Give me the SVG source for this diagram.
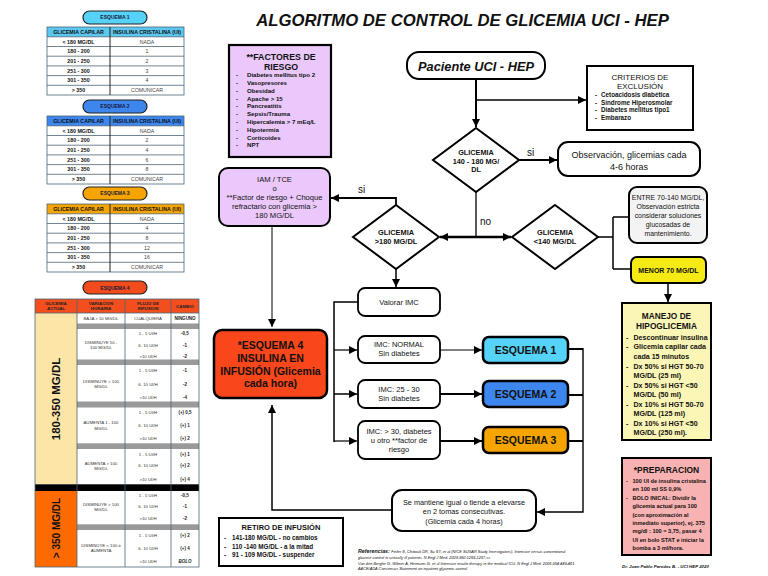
<svg xmlns="http://www.w3.org/2000/svg" width="768" height="576" viewBox="0 0 768 576">
<defs>
<marker id="ah" viewBox="0 0 10 10" refX="10" refY="5" markerWidth="8" markerHeight="8" markerUnits="userSpaceOnUse" orient="auto"><path d="M0,0 L10,5 L0,10 z" fill="#000"/></marker>
<style>
text{font-family:"Liberation Sans",Arial,Helvetica,sans-serif;fill:#111}
.c{text-anchor:middle}
.b{font-weight:bold}
.bi{font-weight:bold;font-style:italic}
.it{font-style:italic}
.ln{stroke:#000;fill:none}
.tb{stroke:#4d6577;stroke-width:0.8;fill:none}
.dv{stroke:#222;stroke-width:1}
.th{font-size:5.3px;font-weight:bold}
.tl{font-size:5.3px;font-weight:bold}
.tr{font-size:5.2px;fill:#444}
.pill{stroke:#222;stroke-width:1.2}
.pt{font-size:5px;font-weight:bold;fill:#1a1a40}
.s4{font-size:4.3px;fill:#333}
.s4b{font-size:4.5px;font-weight:bold;fill:#222}
.s4h{font-size:4.4px;font-weight:bold;fill:#222}
.gray{fill:#9a9a9a}
.box{stroke:#000;stroke-width:2}
.li{font-weight:bold}
</style>
</defs>
<rect width="768" height="576" fill="#fff"/>

<text x="462.5" y="26" class="c bi" font-size="16.7">ALGORITMO DE CONTROL DE GLICEMIA UCI - HEP</text>

<!-- ESQUEMA 1 table -->
<g id="tabla1" transform="translate(0,27)">
<rect x="83" y="-16" width="64" height="13" rx="6.5" fill="#56d1f7" class="pill"/>
<text x="115" y="-7.7" class="c pt">ESQUEMA 1</text>
<rect x="47" y="0" width="137" height="9.8" fill="#5cc8f0"/>
<rect x="47" y="0" width="137" height="68" class="tb"/>
<path d="M47,9.8H184M47,19.5H184M47,29.2H184M47,38.9H184M47,48.6H184M47,58.3H184" class="tb"/>
<path d="M110,0V68" class="dv"/>
<text x="78.5" y="6.7" class="c th">GLICEMIA CAPILAR</text>
<text x="147" y="6.7" class="c th">INSULINA CRISTALINA (UI)</text>
<text x="78.5" y="16.5" class="c tl">&lt; 180 MG/DL</text><text x="147" y="16.5" class="c tr">NADA</text>
<text x="78.5" y="26.2" class="c tl">180 - 200</text><text x="147" y="26.2" class="c tr">1</text>
<text x="78.5" y="35.9" class="c tl">201 - 250</text><text x="147" y="35.9" class="c tr">2</text>
<text x="78.5" y="45.6" class="c tl">251 - 300</text><text x="147" y="45.6" class="c tr">3</text>
<text x="78.5" y="55.3" class="c tl">301 - 350</text><text x="147" y="55.3" class="c tr">4</text>
<text x="78.5" y="65" class="c tl">&gt; 350</text><text x="147" y="65" class="c tr">COMUNICAR</text>
</g>

<!-- ESQUEMA 2 table -->
<g id="tabla2" transform="translate(0,116)">
<rect x="83" y="-16" width="64" height="13" rx="6.5" fill="#3c86ee" class="pill"/>
<text x="115" y="-7.7" class="c pt">ESQUEMA 2</text>
<rect x="47" y="0" width="137" height="9.8" fill="#3c86ee"/>
<rect x="47" y="0" width="137" height="68" class="tb"/>
<path d="M47,9.8H184M47,19.5H184M47,29.2H184M47,38.9H184M47,48.6H184M47,58.3H184" class="tb"/>
<path d="M110,0V68" class="dv"/>
<text x="78.5" y="6.7" class="c th">GLICEMIA CAPILAR</text>
<text x="147" y="6.7" class="c th">INSULINA CRISTALINA (UI)</text>
<text x="78.5" y="16.5" class="c tl">&lt; 180 MG/DL</text><text x="147" y="16.5" class="c tr">NADA</text>
<text x="78.5" y="26.2" class="c tl">180 - 200</text><text x="147" y="26.2" class="c tr">2</text>
<text x="78.5" y="35.9" class="c tl">201 - 250</text><text x="147" y="35.9" class="c tr">4</text>
<text x="78.5" y="45.6" class="c tl">251 - 300</text><text x="147" y="45.6" class="c tr">6</text>
<text x="78.5" y="55.3" class="c tl">301 - 350</text><text x="147" y="55.3" class="c tr">8</text>
<text x="78.5" y="65" class="c tl">&gt; 350</text><text x="147" y="65" class="c tr">COMUNICAR</text>
</g>

<!-- ESQUEMA 3 table -->
<g id="tabla3" transform="translate(0,204)">
<rect x="83" y="-17" width="64" height="13" rx="6.5" fill="#f6a500" class="pill"/>
<text x="115" y="-8.7" class="c pt">ESQUEMA 3</text>
<rect x="47" y="0" width="137" height="9.8" fill="#f6a500"/>
<rect x="47" y="0" width="137" height="68" class="tb"/>
<path d="M47,9.8H184M47,19.5H184M47,29.2H184M47,38.9H184M47,48.6H184M47,58.3H184" class="tb"/>
<path d="M110,0V68" class="dv"/>
<text x="78.5" y="6.7" class="c th">GLICEMIA CAPILAR</text>
<text x="147" y="6.7" class="c th">INSULINA CRISTALINA (UI)</text>
<text x="78.5" y="16.5" class="c tl">&lt; 180 MG/DL</text><text x="147" y="16.5" class="c tr">NADA</text>
<text x="78.5" y="26.2" class="c tl">180 - 200</text><text x="147" y="26.2" class="c tr">4</text>
<text x="78.5" y="35.9" class="c tl">201 - 250</text><text x="147" y="35.9" class="c tr">8</text>
<text x="78.5" y="45.6" class="c tl">251 - 300</text><text x="147" y="45.6" class="c tr">12</text>
<text x="78.5" y="55.3" class="c tl">301 - 350</text><text x="147" y="55.3" class="c tr">16</text>
<text x="78.5" y="65" class="c tl">&gt; 350</text><text x="147" y="65" class="c tr">COMUNICAR</text>
</g>

<!-- ESQUEMA 4 table -->
<g id="tabla4">
<rect x="83" y="281" width="64" height="13" rx="6.5" fill="#f24c1c" class="pill"/>
<text x="115" y="289.5" class="c pt">ESQUEMA 4</text>
<rect x="35" y="299" width="164" height="14" fill="#f24e1e"/>
<rect x="35" y="313" width="42" height="171.3" fill="#fde5a8"/>
<rect x="35" y="491" width="42" height="76" fill="#ff6a00"/>
<rect x="77" y="323.5" width="122" height="5.5" class="gray"/>
<rect x="77" y="359.5" width="122" height="5.5" class="gray"/>
<rect x="77" y="401.5" width="122" height="6" class="gray"/>
<rect x="77" y="443.3" width="122" height="5.7" class="gray"/>
<rect x="77" y="524.3" width="122" height="5.7" class="gray"/>
<rect x="35" y="484.3" width="164" height="6.7" fill="#000"/>
<rect x="35" y="299" width="164" height="268" class="tb" stroke-width="1"/>
<path d="M77,299V567M125,299V567M171,299V567M35,313H199" class="tb"/>
<text x="56" y="305" class="c s4h">GLICEMIA</text><text x="56" y="310" class="c s4h">ACTUAL</text>
<text x="101" y="305" class="c s4h">VARIACION</text><text x="101" y="310" class="c s4h">HORARIA</text>
<text x="148" y="305" class="c s4h">FLUJO DE</text><text x="148" y="310" class="c s4h">INFUSION</text>
<text x="185" y="307.5" class="c s4h">CAMBIO</text>
<text x="101" y="319.8" class="c s4">BAJA &gt; 50 MG/DL</text>
<text x="148" y="319.8" class="c s4">CUALQUIERA</text>
<text x="185" y="319.8" class="c s4b">NINGUNO</text>
<text transform="translate(60,399) rotate(-90)" class="c b" font-size="11.5">180-350 MG/DL</text>
<text transform="translate(59.5,528) rotate(-90)" class="c b" font-size="10">&gt; 350 MG/DL</text>
<!-- block A -->
<text x="101" y="343.5" class="c s4">DISMINUYE 50 -</text><text x="101" y="349" class="c s4">100 MG/DL</text>
<text x="148" y="335" class="c s4">1 - 5 UI/H</text><text x="148" y="346.5" class="c s4">6- 10 UI/H</text><text x="148" y="357.6" class="c s4">&gt;10 UI/H</text>
<text x="185" y="335" class="c s4b">-0,5</text><text x="185" y="346.5" class="c s4b">-1</text><text x="185" y="357.6" class="c s4b">-2</text>
<!-- block B -->
<text x="101" y="382.5" class="c s4">DISMINUYE &gt; 100</text><text x="101" y="388" class="c s4">MG/DL</text>
<text x="148" y="372.2" class="c s4">1 - 5 UI/H</text><text x="148" y="385.5" class="c s4">6- 10 UI/H</text><text x="148" y="398.8" class="c s4">&gt;10 UI/H</text>
<text x="185" y="372.2" class="c s4b">-1</text><text x="185" y="385.5" class="c s4b">-2</text><text x="185" y="398.8" class="c s4b">-4</text>
<!-- block C -->
<text x="101" y="424" class="c s4">AUMENTA 1 - 100</text><text x="101" y="429.5" class="c s4">MG/DL</text>
<text x="148" y="413.8" class="c s4">1 - 5 UI/H</text><text x="148" y="426.5" class="c s4">6- 10 UI/H</text><text x="148" y="439.8" class="c s4">&gt;10 UI/H</text>
<text x="185" y="413.8" class="c s4b">(+) 0,5</text><text x="185" y="426.5" class="c s4b">(+) 1</text><text x="185" y="439.8" class="c s4b">(+) 2</text>
<!-- block D -->
<text x="101" y="464.5" class="c s4">AUMENTA &gt; 100</text><text x="101" y="470" class="c s4">MG/DL</text>
<text x="148" y="455.8" class="c s4">1 - 5 UI/H</text><text x="148" y="467.2" class="c s4">6- 10 UI/H</text><text x="148" y="481.3" class="c s4">&gt;10 UI/H</text>
<text x="185" y="455.8" class="c s4b">(+) 1</text><text x="185" y="467.2" class="c s4b">(+) 2</text><text x="185" y="481.3" class="c s4b">(+) 4</text>
<!-- block E -->
<text x="101" y="505.5" class="c s4">DISMINUYE &gt; 100</text><text x="101" y="511" class="c s4">MG/DL</text>
<text x="148" y="496.5" class="c s4">1 - 5 UI/H</text><text x="148" y="508.2" class="c s4">6- 10 UI/H</text><text x="148" y="519.8" class="c s4">&gt;10 UI/H</text>
<text x="185" y="496.5" class="c s4b">-0,5</text><text x="185" y="508.2" class="c s4b">-1</text><text x="185" y="519.8" class="c s4b">-2</text>
<!-- block F -->
<text x="101" y="546.5" class="c s4">DISMINUYE &lt; 100 ó</text><text x="101" y="552" class="c s4">AUMENTA</text>
<text x="148" y="536.5" class="c s4">1 - 5 UI/H</text><text x="148" y="549.8" class="c s4">6- 10 UI/H</text><text x="148" y="562.5" class="c s4">&gt;10 UI/H</text>
<text x="185" y="536.5" class="c s4b">(+) 2</text><text x="185" y="549.8" class="c s4b">(+) 4</text><text x="185" y="562.5" class="c s4b" font-style="italic">BOLO</text>
</g>

<!-- connectors -->
<g id="connectors">
<path d="M476,79V127" class="ln" stroke-width="2" marker-end="url(#ah)"/>
<path d="M476,100H586" class="ln" stroke-width="1.3" marker-end="url(#ah)"/>
<path d="M519,160H557" class="ln" stroke-width="2" marker-end="url(#ah)"/>
<path d="M476,192V237" class="ln" stroke-width="1.3"/>
<path d="M476,237H440" class="ln" stroke-width="2.5" marker-end="url(#ah)"/>
<path d="M476,237H511" class="ln" stroke-width="2.5" marker-end="url(#ah)"/>
<path d="M396,205V198H331" class="ln" stroke-width="1.8" marker-end="url(#ah)"/>
<path d="M396,269V287" class="ln" stroke-width="1.5" marker-end="url(#ah)"/>
<path d="M272,226V327" class="ln" stroke-width="1" marker-end="url(#ah)"/>
<path d="M358,302H334V442" class="ln" stroke-width="1.5"/>
<path d="M334,350H357" class="ln" stroke-width="1.2" marker-end="url(#ah)"/>
<path d="M334,394H357" class="ln" stroke-width="1.5" marker-end="url(#ah)"/>
<path d="M334,441H357" class="ln" stroke-width="1.2" marker-end="url(#ah)"/>
<path d="M440,350H482" class="ln" stroke-width="1" marker-end="url(#ah)"/>
<path d="M440,394H482" class="ln" stroke-width="2" marker-end="url(#ah)"/>
<path d="M440,441H482" class="ln" stroke-width="2" marker-end="url(#ah)"/>
<path d="M568,349H583M568,395H583M568,441H583" class="ln" stroke-width="1.8"/>
<path d="M583,348V512H537" class="ln" stroke-width="1.4" marker-end="url(#ah)"/>
<path d="M392,510H272V405" class="ln" stroke-width="1.5" marker-end="url(#ah)"/>
<path d="M598,237H613M613,217V269M613,217H629M613,269H631" class="ln" stroke-width="1.5"/>
<path d="M668,283V302" class="ln" stroke-width="1.5" marker-end="url(#ah)"/>
<text x="527" y="156" font-size="10">si</text>
<text x="480" y="225" font-size="10">no</text>
<text x="358" y="193" font-size="10">si</text>
</g>

<!-- nodes -->
<g id="paciente">
<rect x="407" y="52" width="138" height="27" rx="12" fill="#fff" class="box"/>
<text x="476" y="70.5" class="c bi" font-size="12.8">Paciente UCI - HEP</text>
</g>

<g id="criterios">
<rect x="587" y="66" width="106" height="64" fill="#fff" class="box"/>
<text x="640" y="80" class="c" font-size="8">CRITERIOS DE</text>
<text x="640" y="89" class="c" font-size="8">EXCLUSIÓN</text>
<g font-size="6.3" class="li">
<text x="595" y="97">-</text><text x="601" y="97">Cetoacidosis diabética</text>
<text x="595" y="104.6">-</text><text x="601" y="104.6">Síndrome Hiperosmolar</text>
<text x="595" y="112.2">-</text><text x="601" y="112.2">Diabetes mellitus tipo1</text>
<text x="595" y="119.8">-</text><text x="601" y="119.8">Embarazo</text>
</g>
</g>

<g id="factores">
<rect x="229" y="45" width="102" height="112" fill="#ebc8fb" stroke="#000" stroke-width="2.2"/>
<text x="281" y="59.5" class="c b" font-size="8.8">**FACTORES DE</text>
<text x="281" y="69.5" class="c b" font-size="8.8">RIESGO</text>
<g font-size="6.1" class="li">
<text x="236" y="77.2">-</text><text x="247" y="77.2">Diabetes mellitus tipo 2</text>
<text x="236" y="85">-</text><text x="247" y="85">Vasopresores</text>
<text x="236" y="92.8">-</text><text x="247" y="92.8">Obesidad</text>
<text x="236" y="100.6">-</text><text x="247" y="100.6">Apache &gt; 15</text>
<text x="236" y="108.4">-</text><text x="247" y="108.4">Pancreatitis</text>
<text x="236" y="116.2">-</text><text x="247" y="116.2">Sepsis/Trauma</text>
<text x="236" y="124">-</text><text x="247" y="124">Hipercalemia &gt; 7 mEq/L</text>
<text x="236" y="131.8">-</text><text x="247" y="131.8">Hipotermia</text>
<text x="236" y="139.6">-</text><text x="247" y="139.6">Corticoides</text>
<text x="236" y="147.4">-</text><text x="247" y="147.4">NPT</text>
</g>
</g>

<g id="iam">
<rect x="219" y="168" width="111" height="58" rx="9" fill="#ebc8fb" class="box"/>
<g font-size="7.6">
<text x="274.5" y="181.5" class="c">IAM / TCE</text>
<text x="274.5" y="191" class="c">o</text>
<text x="274.5" y="200" class="c">**Factor de riesgo + Choque</text>
<text x="274.5" y="208.8" class="c">refractario con glicemia &gt;</text>
<text x="274.5" y="217.8" class="c">180 MG/DL</text>
</g>
</g>

<g id="dec140180">
<polygon points="476,128 519,160 476,192 433,160" fill="#fff" class="box"/>
<g font-size="7.3" class="b">
<text x="476" y="155" class="c">GLICEMIA</text>
<text x="476" y="163.5" class="c">140 - 180 MG/</text>
<text x="476" y="172" class="c">DL</text>
</g>
</g>

<g id="observacion">
<rect x="558" y="142" width="142" height="34" rx="10" fill="#fff" class="box"/>
<text x="629" y="158" class="c" font-size="9">Observación, glicemias cada</text>
<text x="629" y="170" class="c" font-size="9">4-6 horas</text>
</g>

<g id="dec180">
<polygon points="396,205 439,237 396,269 353,237" fill="#fff" class="box"/>
<text x="396" y="235" class="c b" font-size="7.4">GLICEMIA</text>
<text x="396" y="243.5" class="c b" font-size="7.4">&gt;180 MG/DL</text>
</g>

<g id="dec140">
<polygon points="555,205 598,237 555,269 512,237" fill="#fff" class="box"/>
<text x="555" y="235" class="c b" font-size="7.4">GLICEMIA</text>
<text x="555" y="243.5" class="c b" font-size="7.4">&lt;140 MG/DL</text>
</g>

<g id="entre">
<rect x="629" y="187" width="78" height="56" rx="8" fill="#f3f3f3" class="box"/>
<g font-size="6.9">
<text x="668" y="199.5" class="c">ENTRE 70-140 MG/DL,</text>
<text x="668" y="208.5" class="c">Observación estricta</text>
<text x="668" y="217.5" class="c">considerar soluciones</text>
<text x="668" y="226.5" class="c">glucosadas de</text>
<text x="668" y="235.5" class="c">mantenimiento.</text>
</g>
</g>

<g id="menor">
<rect x="631" y="257" width="75" height="26" rx="6" fill="#f5ea14" class="box"/>
<text x="668.5" y="272.5" class="c b" font-size="7">MENOR 70 MG/DL</text>
</g>

<g id="manejo">
<rect x="622" y="303" width="89" height="137" fill="#fcf6b6" class="box"/>
<text x="666.5" y="318.5" class="c b" font-size="8.3">MANEJO DE</text>
<text x="666.5" y="328.5" class="c b" font-size="8.3">HIPOGLICEMIA</text>
<g font-size="7.1" class="li">
<text x="626" y="339.5">-</text><text x="633.5" y="339.5">Descontinuar insulina</text>
<text x="626" y="349">-</text><text x="633.5" y="349">Glicemia capilar cada</text>
<text x="633.5" y="358.5">cada 15 minutos</text>
<text x="626" y="368.5">-</text><text x="633.5" y="368.5">Dx 50% si HGT 50-70</text>
<text x="633.5" y="378">MG/DL (25 ml)</text>
<text x="626" y="387.5">-</text><text x="633.5" y="387.5">Dx 50% si HGT &lt;50</text>
<text x="633.5" y="397">MG/DL (50 ml)</text>
<text x="626" y="406.5">-</text><text x="633.5" y="406.5">Dx 10% si HGT 50-70</text>
<text x="633.5" y="416">MG/DL (125 ml)</text>
<text x="626" y="425.5">-</text><text x="633.5" y="425.5">Dx 10% si HGT &lt;50</text>
<text x="633.5" y="435">MG/DL (250 ml).</text>
</g>
</g>

<g id="preparacion">
<rect x="622" y="458" width="89" height="97" fill="#f9b2b2" class="box"/>
<text x="666.5" y="473" class="c b" font-size="8.5">*PREPARACION</text>
<g font-size="5.6" class="li">
<text x="626" y="483">-</text><text x="632.5" y="483">100 UI de insulina cristalina</text>
<text x="632.5" y="491.4">en 100 ml SS 0,9%</text>
<text x="626" y="499.8">-</text><text x="632.5" y="499.8">BOLO INICAL: Dividir la</text>
<text x="632.5" y="508.2">glicemia actual para 100</text>
<text x="632.5" y="516.6">(con aproximación al</text>
<text x="632.5" y="525">inmediato superior), ej. 375</text>
<text x="632.5" y="533.4">mg/dl : 100 = 3,75, pasar 4</text>
<text x="632.5" y="541.8">UI en bolo STAT e iniciar la</text>
<text x="632.5" y="550.2">bomba a 3 ml/hora.</text>
</g>
</g>

<g id="esquema4">
<rect x="214" y="330" width="113" height="68" rx="8" fill="#f9461a" stroke="#000" stroke-width="2.5"/>
<g font-size="10.5" class="b">
<text x="270.5" y="349" class="c">*ESQUEMA 4</text>
<text x="270.5" y="362" class="c">INSULINA EN</text>
<text x="270.5" y="374.5" class="c">INFUSIÓN (Glicemia</text>
<text x="270.5" y="387" class="c">cada hora)</text>
</g>
</g>

<g id="valorar">
<rect x="358" y="288" width="82" height="28" rx="7" fill="#fff" stroke="#000" stroke-width="1.8"/>
<text x="399" y="304.5" class="c" font-size="7.5">Valorar IMC</text>
</g>
<g id="imcnormal">
<rect x="358" y="336" width="82" height="27" rx="7" fill="#fff" stroke="#000" stroke-width="1.8"/>
<text x="399" y="347" class="c" font-size="7.5">IMC: NORMAL</text>
<text x="399" y="356" class="c" font-size="7.5">Sin diabetes</text>
</g>
<g id="imc2530">
<rect x="358" y="380" width="82" height="28" rx="7" fill="#fff" stroke="#000" stroke-width="1.8"/>
<text x="399" y="391.8" class="c" font-size="7.5">IMC: 25 - 30</text>
<text x="399" y="400.8" class="c" font-size="7.5">Sin diabetes</text>
</g>
<g id="imc30">
<rect x="358" y="421" width="82" height="38" rx="7" fill="#fff" stroke="#000" stroke-width="1.8"/>
<text x="399" y="434.3" class="c" font-size="7.5">IMC: &gt; 30, diabetes</text>
<text x="399" y="443.3" class="c" font-size="7.5">u otro **factor de</text>
<text x="399" y="452" class="c" font-size="7.5">riesgo</text>
</g>

<g id="esquema1">
<rect x="483" y="337" width="85" height="26" rx="6" fill="#55d3f8" stroke="#000" stroke-width="2.5"/>
<text x="525.5" y="354" class="c b" font-size="10.5">ESQUEMA 1</text>
</g>
<g id="esquema2">
<rect x="483" y="381" width="85" height="26" rx="6" fill="#3c86ee" stroke="#000" stroke-width="2.5"/>
<text x="525.5" y="397.8" class="c b" font-size="10.5">ESQUEMA 2</text>
</g>
<g id="esquema3">
<rect x="483" y="427" width="85" height="26" rx="6" fill="#f6a500" stroke="#000" stroke-width="2.5"/>
<text x="525.5" y="444" class="c b" font-size="10.5">ESQUEMA 3</text>
</g>

<g id="mantiene">
<rect x="392" y="490" width="144" height="41" rx="10" fill="#fff" class="box"/>
<g font-size="7.3">
<text x="464" y="504.5" class="c">Se mantiene igual o tiende a elevarse</text>
<text x="464" y="514.2" class="c">en 2 tomas consecutivas.</text>
<text x="464" y="523.8" class="c">(Glicemia cada 4 horas)</text>
</g>
</g>

<g id="retiro">
<rect x="219" y="518" width="124" height="48" fill="#fff" class="box"/>
<text x="281" y="529.5" class="c b" font-size="7.5">RETIRO DE INFUSIÓN</text>
<g font-size="6.3" class="li">
<text x="224" y="540">-</text><text x="232" y="540">141-180 MG/DL - no cambios</text>
<text x="224" y="548.5">-</text><text x="232" y="548.5">110 -140 MG/DL - a la mitad</text>
<text x="224" y="557">-</text><text x="232" y="557">91 - 109 MG/DL - suspender</text>
</g>
</g>

<g id="referencias">
<text x="358" y="553" font-size="3.9" class="it"><tspan class="bi" font-size="5.3">Referencias: </tspan>Finfer S, Chittock DR, Su SY, et al (NICE SUGAR Study Investigators). Intensive versus conventional</text>
<text x="358" y="558.5" font-size="3.9" class="it">glucose control in critically ill patients. N Engl J Med. 2009;360:1283-1297.ss</text>
<text x="358" y="565" font-size="3.9" class="it">Van den Berghe G, Wilmer A, Hermans G, et al Intensive insulin therapy in the medical ICU. N Engl J Med. 2006;354:449-461.</text>
<text x="358" y="570" font-size="3.9" class="it">AACE/ADA Consensus Statement on inpatient glycemic control</text>
</g>

<text x="622" y="568" class="bi" font-size="4.4">Dr. Juan Pablo Paredes B. - UCI HEP 2020</text>
</svg>
